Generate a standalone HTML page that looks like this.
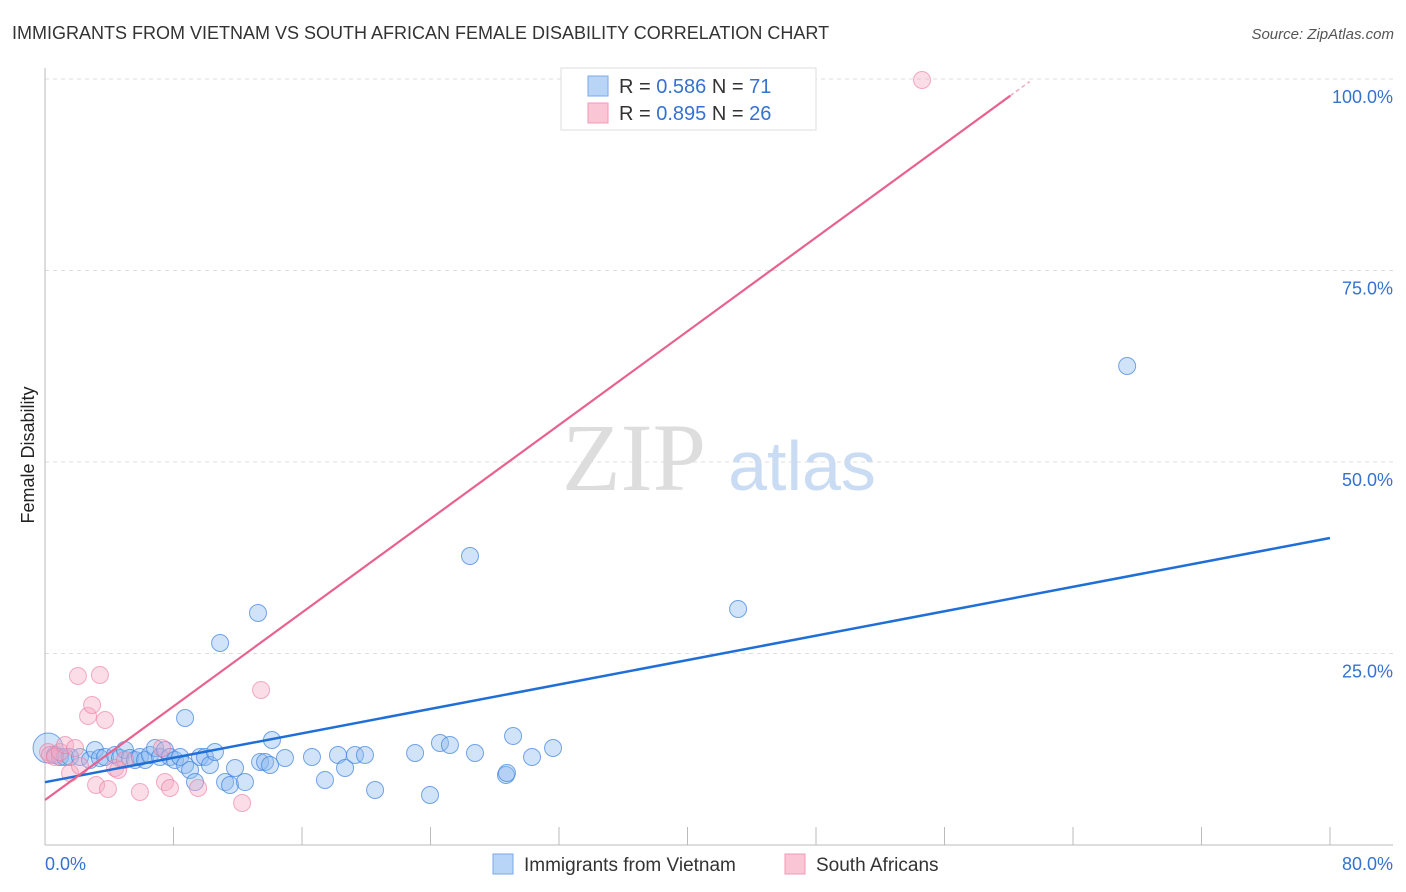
<!DOCTYPE html>
<html><head><meta charset="utf-8"><style>
body{margin:0;background:#fff;font-family:"Liberation Sans",sans-serif;}
svg{display:block}
</style></head><body>
<svg id="chart" width="1406" height="892" xmlns="http://www.w3.org/2000/svg">
<text x="12" y="39" font-size="18" fill="#333">IMMIGRANTS FROM VIETNAM VS SOUTH AFRICAN FEMALE DISABILITY CORRELATION CHART</text>
<text x="1394" y="39" font-size="15" fill="#555" font-style="italic" text-anchor="end">Source: ZipAtlas.com</text>
<text x="634" y="490" font-size="96" fill="#ddd" font-family="Liberation Serif,serif" text-anchor="middle">ZIP</text>
<text x="802" y="490" font-size="70" fill="#c9dcf3" text-anchor="middle">atlas</text>
<text transform="translate(34,455) rotate(-90)" font-size="18" fill="#222" text-anchor="middle">Female Disability</text>
<g id="grid"></g><g id="pts"></g><g id="lines"></g>
<g>
<rect x="561" y="68" width="255" height="62" fill="#fff" stroke="#ddd"/>
<rect x="588" y="76" width="20" height="20" fill="#b8d4f6" stroke="#7aaae8"/>
<rect x="588" y="103" width="20" height="20" fill="#fac6d6" stroke="#f09ab4"/>
<text x="619" y="93" font-size="20" fill="#333">R = <tspan fill="#3572d0">0.586</tspan>   N =  <tspan fill="#3572d0">71</tspan></text>
<text x="619" y="120" font-size="20" fill="#333">R = <tspan fill="#3572d0">0.895</tspan>   N = <tspan fill="#3572d0">26</tspan></text>
</g>
<g>
<rect x="493" y="854" width="20" height="20" fill="#b8d4f6" stroke="#7aaae8"/>
<text x="524" y="871" font-size="19" fill="#333">Immigrants from Vietnam</text>
<rect x="785" y="854" width="20" height="20" fill="#fac6d6" stroke="#f09ab4"/>
<text x="816" y="871" font-size="19" fill="#333">South Africans</text>
</g>
<text x="45" y="870" font-size="18" fill="#3572d0">0.0%</text>
<text x="1393" y="870" font-size="18" fill="#3572d0" text-anchor="end">80.0%</text>
</svg>
<script>
const yTicks=[25,50,75,100];
const yTickLabels=["25.0%","50.0%","75.0%","100.0%"];
const xTicks=[0,8,16,24,32,40,48,56,64,72,80];
const blueX=[0.19,0.62,0.93,1.25,1.56,2.18,2.80,3.11,3.42,3.74,4.36,4.67,4.98,5.29,5.60,5.91,6.23,6.54,6.85,7.16,7.47,7.78,8.09,8.41,8.72,9.03,9.34,9.65,9.96,10.27,10.58,10.90,11.21,11.52,11.83,12.45,13.26,13.39,13.70,14.01,14.13,14.94,16.62,17.43,18.24,18.68,19.30,19.92,20.55,23.04,23.97,24.59,25.21,26.46,26.77,28.70,28.76,29.14,30.32,31.63,43.15,67.37,8.72];
const blueY=[12.66,11.75,11.49,11.49,11.49,11.49,11.10,12.40,11.36,11.49,11.75,11.36,12.40,11.36,11.10,11.49,11.10,11.75,12.66,11.49,12.40,11.49,11.10,11.49,10.44,9.79,8.22,11.49,11.49,10.44,12.14,26.37,8.22,7.83,10.05,8.22,30.29,10.84,10.84,10.44,13.71,11.36,11.49,8.49,11.75,10.05,11.75,11.75,7.18,12.01,6.53,13.32,13.06,37.73,12.01,9.14,9.40,14.23,11.49,12.66,30.81,62.53,16.58];
const pinkX=[0.19,0.31,0.62,0.93,1.25,1.56,1.87,2.05,2.18,2.68,2.93,3.18,3.42,3.74,3.92,4.36,4.55,4.98,5.91,7.28,7.47,7.78,9.53,12.27,13.45,54.60];
const pinkY=[12.14,11.75,11.49,12.14,13.06,9.40,12.66,22.06,10.31,16.84,18.28,7.83,22.19,16.32,7.31,10.05,9.79,11.10,6.92,12.66,8.22,7.44,7.44,5.48,20.24,99.87];
const blueFit=[8.2,40.08];
const pinkFit=[5.87,1.53];
const X=v=>45+v/80*1285, Y=v=>845-v/100*766;
const NS="http://www.w3.org/2000/svg";
function mk(tag,attrs,parent){const e=document.createElementNS(NS,tag);for(const k in attrs)e.setAttribute(k,attrs[k]);parent.appendChild(e);return e;}
const grid=document.getElementById('grid');
yTicks.forEach((t,i)=>{
 const l=mk('line',{x1:45,x2:1393,y1:Y(t),y2:Y(t),stroke:'#ddd','stroke-dasharray':'4,4'},grid);
 
 
 const tx=mk('text',{x:1393,y:Y(t)+24,'font-size':18,fill:'#3572d0','text-anchor':'end'},grid);
 tx.textContent=yTickLabels[i];
 
 
});
const ax=mk('line',{x1:45,x2:45,y1:68,y2:845,stroke:'#bbb'},grid);


const bx=mk('line',{x1:45,x2:1393,y1:845,y2:845,stroke:'#bbb'},grid);


xTicks.forEach(t=>{
 const l=mk('line',{x1:X(t),x2:X(t),y1:827,y2:845,stroke:'#bbb'},grid);
 
 
});
const pts=document.getElementById('pts');
blueX.forEach((x,i)=>{
 const c=mk('circle',{cx:X(x),cy:Y(blueY[i]),r:i===0?15:8.5,fill:'rgba(140,185,240,0.4)',stroke:'rgba(60,130,220,0.7)','stroke-width':1},pts);
 
 
});
pinkX.forEach((x,i)=>{
 const c=mk('circle',{cx:X(x),cy:Y(pinkY[i]),r:8.5,fill:'rgba(245,170,195,0.4)',stroke:'rgba(235,120,160,0.6)','stroke-width':1},pts);
 
 
});
const lines=document.getElementById('lines');
const bl=mk('line',{x1:X(0),y1:Y(blueFit[0]),x2:X(80),y2:Y(blueFit[1]),stroke:'#1f6fd6','stroke-width':2.5},lines);


const xe=60.1;
const pl=mk('line',{x1:X(0),y1:Y(pinkFit[0]),x2:X(xe),y2:Y(pinkFit[0]+pinkFit[1]*xe),stroke:'#e8628e','stroke-width':2.2},lines);


const xe2=61.3;
const pd=mk('line',{x1:X(xe),y1:Y(pinkFit[0]+pinkFit[1]*xe),x2:X(xe2),y2:Y(pinkFit[0]+pinkFit[1]*xe2),stroke:'#f0a8c0','stroke-width':1.5,'stroke-dasharray':'4,3'},lines);


</script>
</body></html>
